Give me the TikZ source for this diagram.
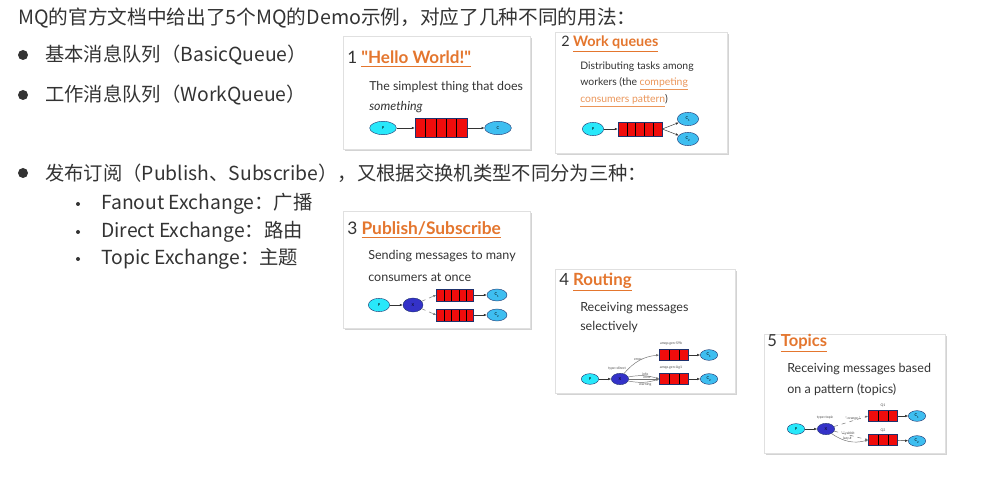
\documentclass[tikz,border=0pt]{standalone}
\usepackage{fontspec}
\setmainfont{Noto Sans CJK SC}
\newfontfamily\cardfont{Lato}
\usetikzlibrary{arrows.meta,shapes.geometric,shadows,calc}
\definecolor{mqText}{RGB}{51,51,51}
\definecolor{mqOrange}{RGB}{228,118,46}
\definecolor{mqLink}{RGB}{235,150,90}
\definecolor{mqRed}{RGB}{240,12,12}
\definecolor{mqCyan}{RGB}{40,232,250}
\definecolor{mqBlue}{RGB}{62,190,240}
\definecolor{mqX}{RGB}{52,50,200}
\definecolor{mqEdge}{RGB}{30,50,110}
\newcommand{\mqtitle}[2]{{\color{mqText}\mdseries #1} \textcolor{mqOrange}{\underline{#2}}}

\begin{document}
\begin{tikzpicture}[
    x=0.75pt, y=-0.75pt,
    card/.style={draw=black!12, fill=white,
                 drop shadow={shadow xshift=1.6pt, shadow yshift=-1.6pt, opacity=0.35}},
    hd/.style={anchor=west, inner sep=0pt, text=mqText, font=\fontsize{14.75}{16}\selectfont},
    item/.style={anchor=west, inner sep=0pt, text=mqText, font=\fontsize{14.5}{16}\selectfont},
    dot/.style={circle, fill=mqText, inner sep=0pt, minimum size=7.5pt},
    sdot/.style={circle, fill=mqText, inner sep=0pt, minimum size=3pt},
    ttl/.style={anchor=west, inner sep=0pt, font=\cardfont\bfseries\fontsize{#1}{12}\selectfont},
    desc/.style={anchor=west, inner sep=0pt, text=mqText, font=\cardfont\fontsize{#1}{10}\selectfont},
    prod/.style 2 args={ellipse, draw=mqEdge, line width=0.3pt, fill=mqCyan, inner sep=0pt,
                 minimum width=#1, minimum height=#2, font=\cardfont\fontsize{3}{3}\selectfont},
    cons/.style 2 args={prod={#1}{#2}, fill=mqBlue},
    exch/.style 2 args={prod={#1}{#2}, fill=mqX},
    queue/.style n args={3}{rectangle, draw=mqEdge, line width=0.3pt, fill=mqRed, inner sep=0pt,
                 minimum width=#1, minimum height=#2,
                 path picture={\foreach \k in {1,...,#3}
                   \draw[black, line width=0.3pt]
                     ($(path picture bounding box.south west)!{\k/(#3+1)}!(path picture bounding box.south east)$) --
                     ($(path picture bounding box.north west)!{\k/(#3+1)}!(path picture bounding box.north east)$);}},
    msg/.style={-{Latex[length=2.2pt,width=1.8pt]}, line width=0.35pt, black!80},
    bind/.style={msg, black!55},
    tiny/.style={inner sep=0.3pt, font=\cardfont\fontsize{2.6}{3}\selectfont, text=black!70}
  ]
  \useasboundingbox (0,0) rectangle (993,488);

  \node[hd] (head) at (18,18) {MQ的官方文档中给出了5个MQ的Demo示例，对应了几种不同的用法：};

  \node[dot] (b1) at (23,55) {};
  \node[item] (t1) at (45,55) {基本消息队列（BasicQueue）};
  \node[dot] (b2) at (23,95) {};
  \node[item] (t2) at (45,95) {工作消息队列（WorkQueue）};
  \node[dot] (b3) at (23,173) {};
  \node[item] (t3) at (45,173) {发布订阅（Publish、Subscribe），又根据交换机类型不同分为三种：};
  \node[sdot] (s1) at (78,204) {};
  \node[item] (u1) at (101,204) {Fanout Exchange：广播};
  \node[sdot] (s2) at (78,232) {};
  \node[item] (u2) at (101,232) {Direct Exchange：路由};
  \node[sdot] (s3) at (78,259) {};
  \node[item] (u3) at (101,259) {Topic Exchange：主题};

  \path[card] (343,36) rectangle (530,149);
  \node[ttl=12.8] (h1) at (347,59) {\mqtitle{1}{"Hello World!"}};
  \node[desc=9.3] (d1a) at (369,87) {The simplest thing that does};
  \node[desc=9.3] (d1b) at (369,107) {\itshape something};
  \node[prod={20pt}{10pt}] (p1) at (383,128) {P};
  \node[queue={39pt}{14pt}{4}] (q1) at (441,128) {};
  \node[cons={20pt}{10pt}] (c1) at (498,128) {C};
  \draw[msg] (p1) -- (q1);
  \draw[msg] (q1) -- (c1);

  \path[card] (555,32) rectangle (727,153);
  \node[ttl=10.8] (h2) at (561,44) {\mqtitle{2}{Work queues}};
  \node[desc=7.8] (d2a) at (580,67) {Distributing tasks among};
  \node[desc=7.8] (d2b) at (580,84) {workers (the \textcolor{mqLink}{\underline{competing}}};
  \node[desc=7.8] (d2c) at (580,101) {\textcolor{mqLink}{\underline{consumers pattern}})};
  \node[prod={16pt}{10pt}] (p2) at (593,129) {P};
  \node[queue={33pt}{10.5pt}{4}] (q2) at (640,129) {};
  \node[cons={16pt}{10pt}] (c21) at (688,119) {C\textsubscript{1}};
  \node[cons={16pt}{10pt}] (c22) at (688,139) {C\textsubscript{2}};
  \draw[msg] (p2) -- (q2);
  \draw[msg] (q2.east) -- (c21);
  \draw[msg] (q2.east) -- (c22);

  \path[card] (343,211) rectangle (530,328);
  \node[ttl=13] (h3) at (347,230) {\mqtitle{3}{Publish/Subscribe}};
  \node[desc=9.4] (d3a) at (368,256) {Sending messages to many};
  \node[desc=9.4] (d3b) at (368,277) {consumers at once};
  \node[prod={16pt}{10pt}] (p3) at (379,305) {P};
  \node[exch={15pt}{10.5pt}] (x3) at (413,305) {X};
  \node[queue={28pt}{9pt}{4}] (q31) at (455,295) {};
  \node[queue={28pt}{9pt}{4}] (q32) at (455,315) {};
  \node[cons={15pt}{9pt}] (c31) at (497,295) {C\textsubscript{1}};
  \node[cons={15pt}{9pt}] (c32) at (497,315) {C\textsubscript{2}};
  \draw[msg] (p3) -- (x3);
  \draw[bind, dashed] (x3) -- (q31.west);
  \draw[bind, dashed] (x3) -- (q32.west);
  \draw[msg] (q31) -- (c31);
  \draw[msg] (q32) -- (c32);

  \path[card] (555,269) rectangle (735,393);
  \node[ttl=12.6] (h4) at (559,282) {\mqtitle{4}{Routing}};
  \node[desc=9.4] (d4a) at (580,308) {Receiving messages};
  \node[desc=9.4] (d4b) at (580,327) {selectively};
  \node[prod={13pt}{8pt}] (p4) at (590,379) {P};
  \node[exch={13pt}{8.5pt}] (x4) at (620,379) {X};
  \node[queue={22pt}{8pt}{2}] (q41) at (674,355) {};
  \node[queue={22pt}{8pt}{2}] (q42) at (674,379) {};
  \node[cons={13pt}{8pt}] (c41) at (709,355) {C\textsubscript{1}};
  \node[cons={13pt}{8pt}] (c42) at (709,379) {C\textsubscript{2}};
  \node[tiny] (n41) at (671,344) {amqp.gen-S9b};
  \node[tiny] (n42) at (671,368) {amqp.gen-Ag1};
  \node[tiny] (t4) at (617,369) {type=direct};
  \draw[msg] (p4) -- (x4);
  \draw[bind] (x4) to[bend left=22] node[tiny, pos=0.45, above] {error} (q41.west);
  \draw[bind] (x4) to[bend left=14] node[tiny, pos=0.55, above] {info} (q42.west);
  \draw[bind] (x4) -- node[tiny, pos=0.6, above=-0.2pt] {error} (q42.west);
  \draw[bind] (x4) to[bend right=14] node[tiny, pos=0.55, below] {warning} (q42.west);
  \draw[msg] (q41) -- (c41);
  \draw[msg] (q42) -- (c42);

  \path[card] (764,334) rectangle (945,453);
  \node[ttl=12.4] (h5) at (767,343) {\mqtitle{5}{Topics}};
  \node[desc=9.4] (d5a) at (787,369) {Receiving messages based};
  \node[desc=9.4] (d5b) at (787,390) {on a pattern (topics)};
  \node[prod={13pt}{8pt}] (p5) at (796,429) {P};
  \node[exch={13pt}{8.5pt}] (x5) at (826,429) {X};
  \node[queue={22pt}{8pt}{2}] (q51) at (883,416) {};
  \node[queue={22pt}{8pt}{2}] (q52) at (883,440) {};
  \node[cons={13pt}{8pt}] (c51) at (917,416) {C\textsubscript{1}};
  \node[cons={13pt}{8pt}] (c52) at (917,441) {C\textsubscript{2}};
  \node[tiny] (n51) at (883,406) {Q1};
  \node[tiny] (n52) at (883,431) {Q2};
  \node[tiny] (t5) at (825,418) {type=topic};
  \draw[msg] (p5) -- (x5);
  \draw[bind, dashed] (x5) -- node[tiny, pos=0.55, above] {*.orange.*} (q51.west);
  \draw[bind, dashed] (x5) -- node[tiny, pos=0.4, above] {*.*.rabbit} (q52.west);
  \draw[bind] (x5) to[bend right=25] node[tiny, pos=0.45, above] {lazy.\#} (q52.west);
  \draw[msg] (q51) -- (c51);
  \draw[msg] (q52) -- (c52);
\end{tikzpicture}
\end{document}
